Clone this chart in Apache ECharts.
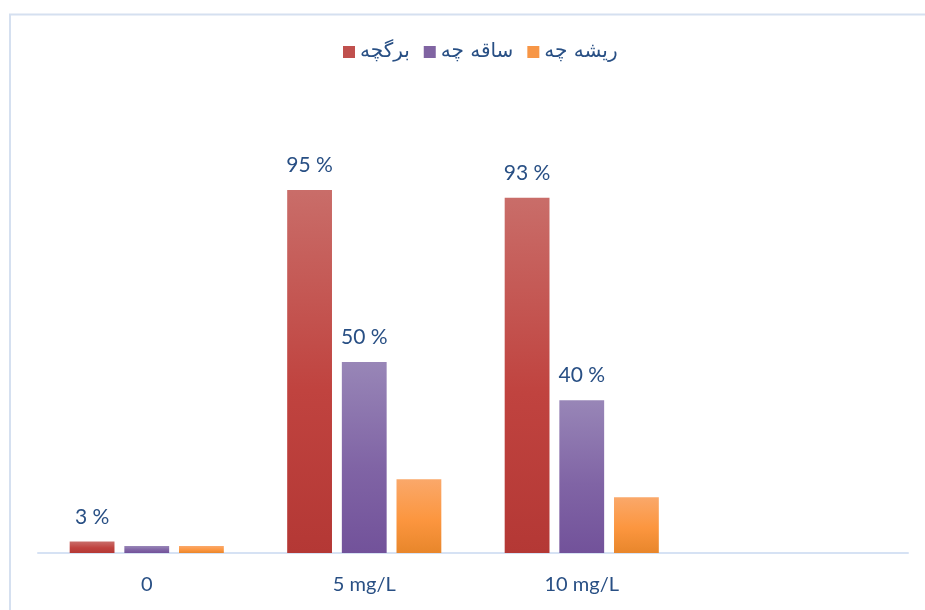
<!DOCTYPE html>
<html>
<head>
<meta charset="utf-8">
<script src="https://cdn.jsdelivr.net/npm/echarts@6/dist/echarts.min.js"></script>
<style>
  html, body { margin: 0; padding: 0; background: #fff; }
  #chart { width: 925px; height: 610px; }
</style>
</head>
<body>
<div id="chart"></div>
<script>
// Concentration groups (the last slot is intentionally empty)
const categories = ['0', '5 mg/L', '10 mg/L', ''];
const seriesNames = ['برگچه', 'ساقه چه', 'ریشه چه'];
const leafletValues = [3, 95, 93, null];
const stemValues = [1.8, 50, 40, null];
const rootValues = [1.8, 19.3, 14.6, null];
// which points carry a percentage label
const leafletLabelled = [true, true, true, false];
const stemLabelled = [false, true, true, false];
const rootLabelled = [false, false, false, false];

const textBlue = '#284f84';
const font = 'Lato, "DejaVu Sans", sans-serif';

function grad(top, mid, bottom) {
  return new echarts.graphic.LinearGradient(0, 0, 0, 1, [
    { offset: 0, color: top },
    { offset: 0.55, color: mid },
    { offset: 1, color: bottom }
  ]);
}

function buildData(values, labelled) {
  return values.map((v, i) => ({
    value: v,
    label: { show: labelled[i] && v != null }
  }));
}

const colors = [
  grad('#c96d69', '#c0433f', '#b43835'),
  grad('#9886b7', '#8064a5', '#72529a'),
  grad('#faa86a', '#fc963f', '#e8862b')
];
const legendColors = ['#c0504d', '#8064a2', '#f79646'];

const labelStyle = {
  position: 'top',
  distance: 14,
  formatter: '{c} %',
  color: textBlue,
  fontSize: 21,
  fontFamily: font
};

const chart = echarts.init(document.getElementById('chart'), null, { renderer: 'canvas' });
chart.setOption({
  animation: false,
  backgroundColor: '#fff',
  graphic: [{
    type: 'rect',
    shape: { x: 10, y: 14.5, width: 940, height: 620 },
    style: { fill: 'none', stroke: '#d5e0f0', lineWidth: 2 },
    silent: true
  }],
  legend: {
    top: 37,
    left: 338,
    itemWidth: 12,
    itemHeight: 12,
    itemGap: 14,
    itemStyle: { borderWidth: 0 },
    textStyle: { color: textBlue, fontSize: 20, fontFamily: '"DejaVu Sans", sans-serif' },
    data: seriesNames.map((n, i) => ({
      name: n,
      icon: 'rect',
      itemStyle: { color: legendColors[i] }
    }))
  },
  grid: { left: 38, right: 17, top: 171, bottom: 57, containLabel: false },
  xAxis: {
    type: 'category',
    data: categories,
    axisLine: { show: true, lineStyle: { color: '#d6e2f4', width: 2 } },
    axisTick: { show: false },
    axisLabel: { color: textBlue, fontSize: 20, fontFamily: font, margin: 22 }
  },
  yAxis: {
    type: 'value',
    min: 0,
    max: 100,
    show: false,
    splitLine: { show: false }
  },
  series: [
    {
      name: seriesNames[0], type: 'bar', barWidth: '20.6%', barGap: '22%',
      itemStyle: { color: colors[0] },
      label: labelStyle,
      data: buildData(leafletValues, leafletLabelled)
    },
    {
      name: seriesNames[1], type: 'bar', barWidth: '20.6%', barGap: '22%',
      itemStyle: { color: colors[1] },
      label: labelStyle,
      data: buildData(stemValues, stemLabelled)
    },
    {
      name: seriesNames[2], type: 'bar', barWidth: '20.6%', barGap: '22%',
      itemStyle: { color: colors[2] },
      label: labelStyle,
      data: buildData(rootValues, rootLabelled)
    }
  ]
});
</script>
</body>
</html>
